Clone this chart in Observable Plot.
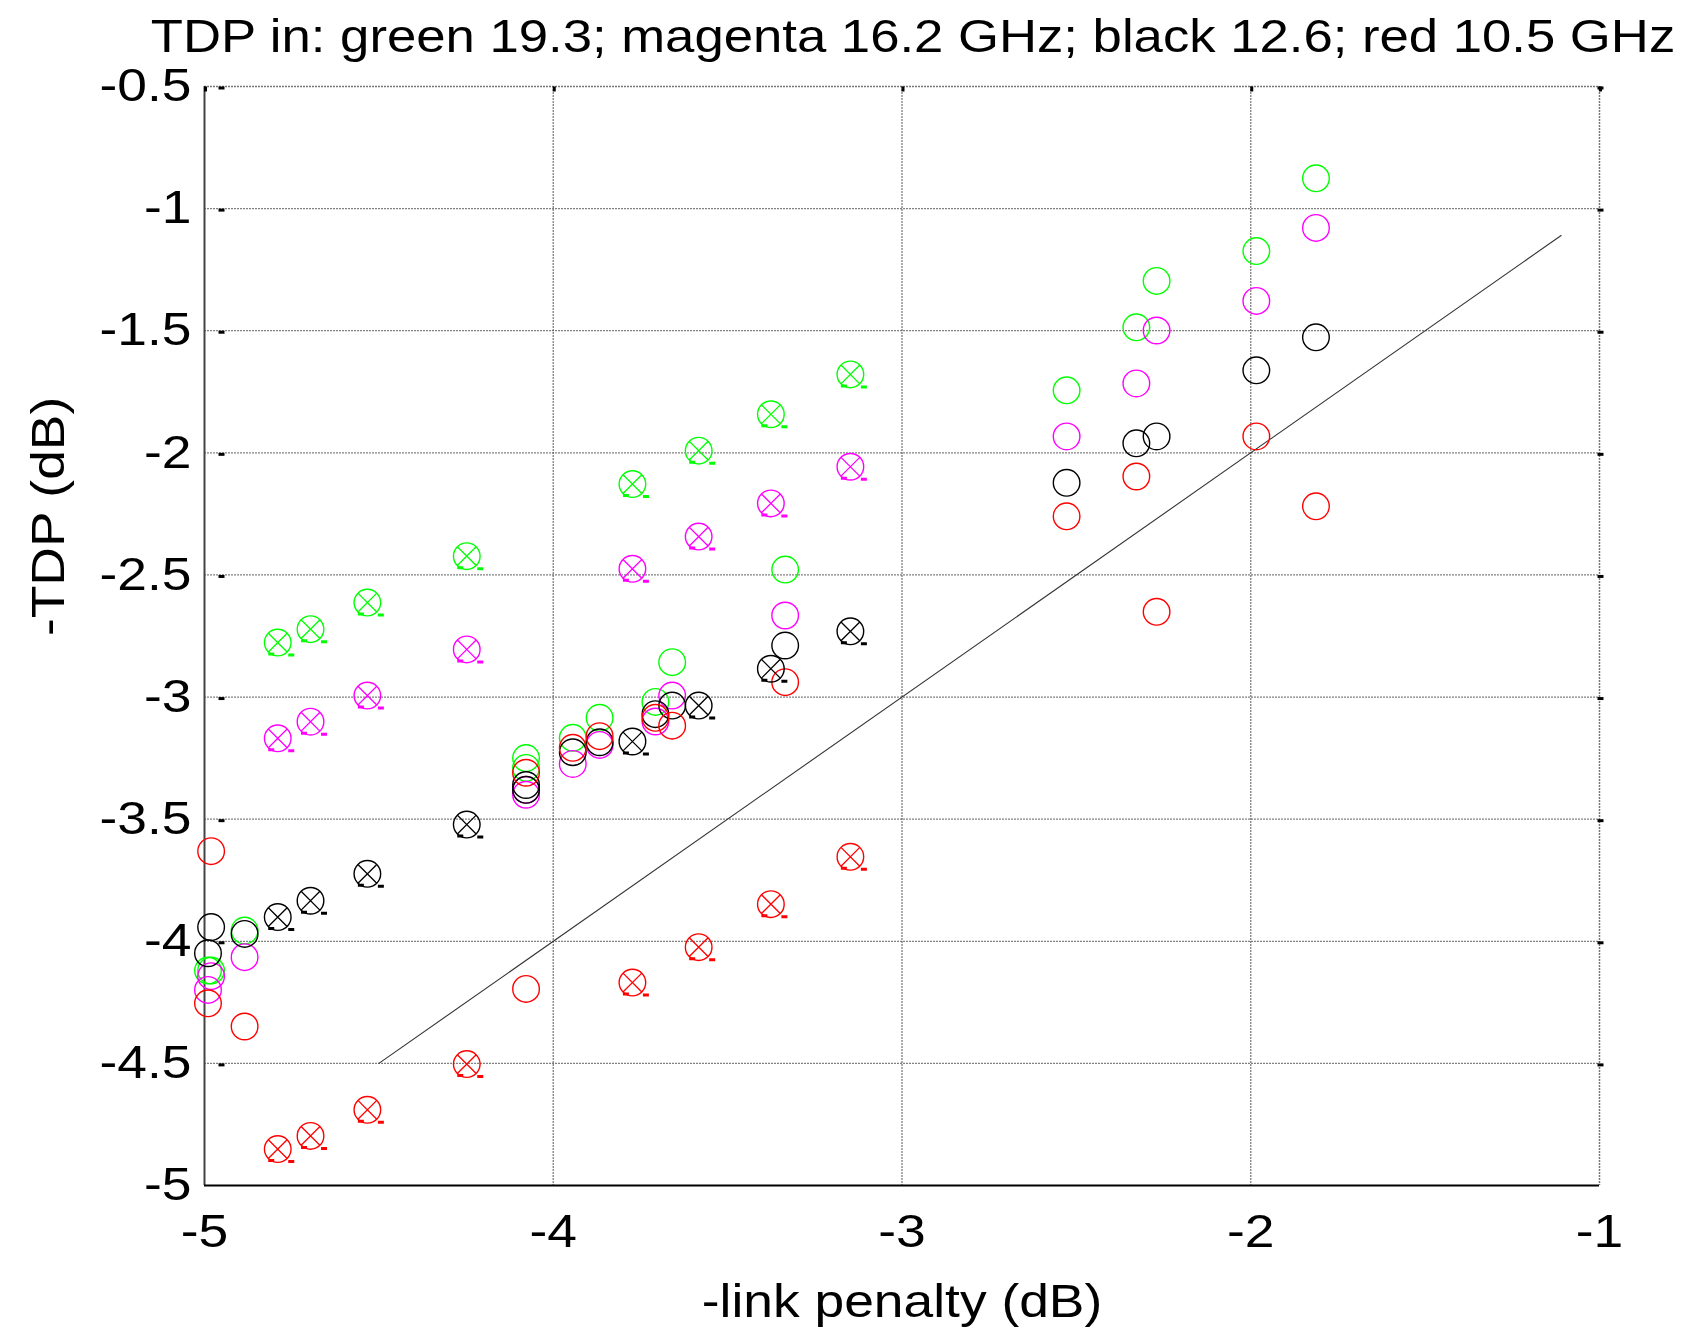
<!DOCTYPE html>
<html>
<head>
<meta charset="utf-8">
<script src="https://cdn.jsdelivr.net/npm/d3@7"></script>
<script src="https://cdn.jsdelivr.net/npm/@observablehq/plot@0.6"></script>
<style>
  html, body { margin: 0; padding: 0; background: white; }
</style>
</head>
<body>
<div id="chart"></div>
<script>
// ---- data ----
const titleText = "TDP in: green 19.3; magenta 16.2 GHz; black 12.6; red 10.5 GHz";
const xLabel = "-link penalty (dB)";
const yLabel = "-TDP (dB)";
const xTicks = [-5, -4, -3, -2, -1];
const yTicks = [-5, -4.5, -4, -3.5, -3, -2.5, -2, -1.5, -1, -0.5];

// plain circles
const circleX       = [-4.981, -4.99, -4.885, -4.078, -4.078, -3.944, -3.867, -3.707, -3.659, -3.335, -2.528, -2.328, -2.27, -1.984, -1.813];
const greenCircle   = [-4.12, -4.12, -3.956, -3.25, -3.29, -3.167, -3.085, -3.02, -2.857, -2.478, -1.744, -1.486, -1.296, -1.174, -0.876];
const magentaCircle = [-4.143, -4.199, -4.065, -3.38, -3.40, -3.274, -3.196, -3.10, -2.994, -2.666, -1.933, -1.716, -1.499, -1.378, -1.079];
const blackCircle   = [-3.942, -4.049, -3.970, -3.36, -3.38, -3.226, -3.185, -3.07, -3.035, -2.789, -2.123, -1.961, -1.933, -1.662, -1.527];
const redCircle     = [-3.631, -4.254, -4.349, -3.31, -4.195, -3.208, -3.16, -3.085, -3.117, -2.939, -2.26, -2.097, -2.651, -1.933, -2.219];

// crossed circles
const crossX       = [-4.79, -4.696, -4.533, -4.248, -3.773, -3.583, -3.376, -3.148];
const greenCross   = [-2.777, -2.722, -2.613, -2.423, -2.128, -1.991, -1.842, -1.679];
const magentaCross = [-3.169, -3.101, -2.994, -2.805, -2.475, -2.343, -2.207, -2.057];
const blackCross   = [-3.901, -3.834, -3.724, -3.522, -3.182, -3.035, -2.884, -2.731];
const redCross     = [-4.851, -4.797, -4.690, -4.503, -4.169, -4.024, -3.848, -3.654];

// reference line y = x
const refX = [-4.5, -1.11];

const colors = {green: "#00ff00", magenta: "#ff00ff", black: "#000000", red: "#ff0000"};
const circleSeries = [["green", greenCircle], ["magenta", magentaCircle], ["black", blackCircle], ["red", redCircle]];
const crossSeries = [["green", greenCross], ["magenta", magentaCross], ["black", blackCross], ["red", redCross]];

const circles = circleSeries.flatMap(([c, ys]) => ys.map((y, i) => ({x: circleX[i], y, c})));
const crosses = crossSeries.flatMap(([c, ys]) => ys.map((y, i) => ({x: crossX[i], y, c})));
const refLine = refX.map(v => ({x: v, y: v}));

// ---- custom symbols ----
const R = 13.3;
const xSym = {draw(ctx) { const h = R / Math.SQRT2; ctx.moveTo(-h, -h); ctx.lineTo(h, h); ctx.moveTo(-h, h); ctx.lineTo(h, -h); }};
const dashSym = {draw(ctx) { ctx.rect(-9.5, 10, 6, 3); ctx.rect(10.5, 11, 6, 3); }};
const barSym = {draw(ctx) { ctx.rect(-3, -1.5, 6, 3); }};
const vbarSym = {draw(ctx) { ctx.rect(-1.5, 0, 3, 5); }};

const FS = 46;
const W = 1685, H = 1330;
const mL = 204, mR = 86, mT = 86, mB = 145;

const plot = Plot.plot({
  width: W, height: H,
  marginLeft: mL, marginRight: mR, marginTop: mT, marginBottom: mB,
  x: {domain: [-5, -1]},
  y: {domain: [-5, -0.5]},
  style: {fontFamily: "'Liberation Sans', Arial, sans-serif", fontSize: FS + "px", background: "white", color: "black"},
  marks: [
    Plot.gridY(yTicks.filter(d => d > -5 && d < -0.5), {stroke: "#555", strokeOpacity: 0.75, strokeWidth: 1.3, strokeDasharray: "2,1"}),
    Plot.gridX(xTicks.filter(d => d > -5 && d < -1), {stroke: "#555", strokeOpacity: 0.75, strokeWidth: 1.3, strokeDasharray: "2,1"}),
    Plot.ruleY([-0.5], {stroke: "#555", strokeOpacity: 0.8, strokeWidth: 1.5, strokeDasharray: "2,1"}),
    Plot.ruleX([-1], {stroke: "#555", strokeOpacity: 0.8, strokeWidth: 1.5, strokeDasharray: "2,1"}),
    Plot.ruleX([-5], {stroke: "#444", strokeWidth: 2}),
    Plot.ruleY([-5], {stroke: "#000", strokeWidth: 2}),
    // tick marks
    Plot.dot(yTicks.filter(d => d > -5), {x: () => -5, y: d => d, symbol: barSym, fill: "black", stroke: "none", dx: 17, dy: 1.5}),
    Plot.dot(yTicks.filter(d => d > -5), {x: () => -1, y: d => d, symbol: barSym, fill: "black", stroke: "none", dx: 1, dy: 1.5}),
    Plot.dot(xTicks, {x: d => d, y: () => -0.5, symbol: vbarSym, fill: "black", stroke: "none", dx: 1}),
    // reference line
    Plot.line(refLine, {x: "x", y: "y", stroke: "#333", strokeWidth: 1.1}),
    // circles
    Plot.dot(circles, {x: "x", y: "y", r: R, stroke: d => colors[d.c], fill: "none", strokeWidth: 1.4}),
    Plot.dot(crosses, {x: "x", y: "y", r: R, stroke: d => colors[d.c], fill: "none", strokeWidth: 1.4}),
    Plot.dot(crosses, {x: "x", y: "y", symbol: xSym, stroke: d => colors[d.c], fill: "none", strokeWidth: 1.3}),
    Plot.dot(crosses, {x: "x", y: "y", symbol: dashSym, fill: d => colors[d.c], stroke: "none"}),
    // axes
    Plot.axisX(xTicks, {tickSize: 0, tickPadding: 29, tickFormat: d => String(d), fontSize: FS, label: null, lineAnchor: "top"}),
    Plot.axisY(yTicks, {tickSize: 0, tickPadding: 13, tickFormat: d => String(d), fontSize: FS, label: null}),
    // labels
    Plot.text([xLabel], {text: d => d, frameAnchor: "bottom", dy: 131, fontSize: FS, fill: "black"}),
    Plot.text([yLabel], {text: d => d, frameAnchor: "left", dx: -155, rotate: -90, fontSize: FS, fill: "black"}),
    Plot.text([titleText], {text: d => d, frameAnchor: "top", dx: 11, dy: -67, fontSize: FS, fill: "black", className: "title"})
  ]
});

document.getElementById("chart").appendChild(plot);
// MATLAB-style horizontally wide glyphs
plot.querySelectorAll("text").forEach(t => {
  const w = t.getComputedTextLength();
  if (w > 0) {
    const isTitle = t.textContent === titleText;
    t.setAttribute("textLength", (w * (isTitle ? 1.145 : 1.16)).toFixed(1));
    t.setAttribute("lengthAdjust", "spacingAndGlyphs");
  }
});
</script>
</body>
</html>
